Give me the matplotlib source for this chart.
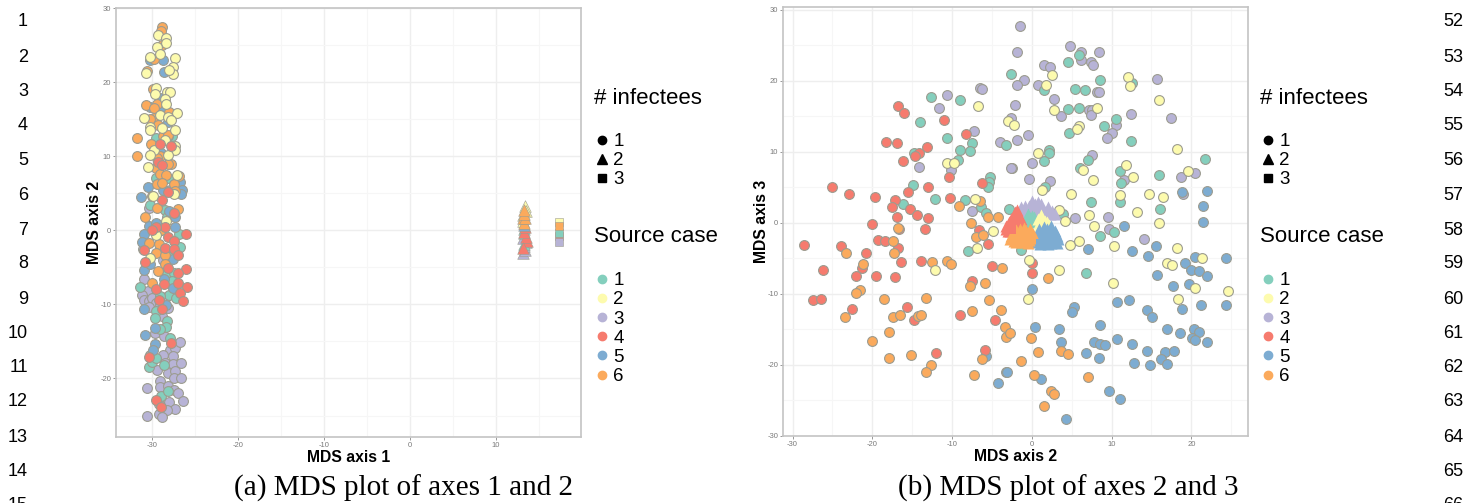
import matplotlib
matplotlib.use("Agg")
import matplotlib.pyplot as plt
from matplotlib.lines import Line2D

plt.rcParams["axes.unicode_minus"] = False

# ---------- Panel (a): MDS axis 1 vs axis 2, circles (1 infectee) ----------
A_TEAL = [(-27.7,12.7),(-29.5,12.5),(-28.2,12.7),(-29.5,7),(-28.1,7),(-30.2,3.4),(-28.5,2.7),(-28.3,1.8),
          (-26.9,-0.5),(-26.7,-2.3),(-27.6,-3.3),(-28.3,-5.8),(-27.5,-5.8),(-27.7,-6.9),(-31.4,-7.6),(-28,-8.7),
          (-27.2,-9.2),(-29.1,-8.9),(-29.5,-10.9),(-29.7,-11.9),(-28.3,-12.3),(-28.4,-13),(-29.1,-13.3),(-27.9,-14.6),
          (-30.4,-18.4),(-30,-17.8),(-29.6,-17.3),(-28.6,-18.2),(-29,-22.3),(-28.2,-21.7)]
A_YELLOW = [(-29.3,26.3),(-28.4,25.9),(-28.4,25.3),(-29.4,24.7),(-29.1,23.8),(-30.3,23.4),(-27.3,23.3),(-27.6,22.0),
            (-27.6,21.1),(-28,21.6),(-30.7,21.2),(-29.5,19.2),(-28.3,18.7),(-27.9,18.6),(-29.7,18.4),(-28.5,17.7),
            (-28.4,17.0),(-27.1,15.8),(-31,15.1),(-29.1,15.6),(-28.2,15.3),(-27.8,14.9),(-30.2,13.9),(-30.2,13.6),
            (-28.8,13.8),(-27.3,13.5),(-28.5,12.2),(-27.3,11.4),(-27.3,10.9),(-29.8,10.9),(-30.3,10.1),(-28.1,10.1),
            (-30.5,8.5),(-27.1,7.5),(-27.5,4.9),(-29.9,4.6),(-28.4,1.2),(-29.6,-0.7),(-30.3,-3.8)]
A_PURPLE = [(-30.4,3.0),(-31.1,-2.5),(-28.7,-4),(-31,-6.6),(-30.5,-8.2),(-31.2,-8.7),(-30.9,-9.4),(-30.4,-9.6),
            (-30,-9.1),(-29.6,-9.8),(-30.4,-10.3),(-28.4,-9),(-29.1,-10),(-28.2,-10.5),(-28.9,-11.6),(-29.7,-13.8),
            (-28.6,-14.3),(-27.9,-16.1),(-27.3,-15.9),(-26.8,-15.1),(-30.2,-16.9),(-28.7,-16.9),(-27.6,-17),
            (-28.5,-17.9),(-27.6,-18),(-26.6,-17.9),(-29.4,-18.9),(-28.2,-19.2),(-27.3,-19),(-27.4,-20),(-26.6,-19.9),
            (-29.1,-20.4),(-29.1,-21.1),(-28.2,-21),(-27.5,-21.5),(-27,-21.9),(-30.6,-21.3),(-28,-23.2),(-26.4,-23),
            (-27.3,-24.1),(-28.3,-24.2),(-29.2,-23.4),(-30.6,-25),(-29.2,-24.8),(-28.8,-25.2)]
A_RED = [(-29.1,11.7),(-27.8,11.4),(-29.3,9.2),(-28.8,8.8),(-28.2,5.1),(-28.8,4.1),(-27.5,2.3),(-28.5,0.4),(-29.6,0.5),
         (-26,-0.5),(-30,0.1),(-28.1,-0.9),(-27.5,-1.5),(-31,-2.6),(-28.5,-2.4),(-27.5,-2.5),(-27.0,-3.3),(-30.8,-4.3),
         (-28.1,-5.1),(-26,-5.2),(-27,-5.8),(-27,-7.1),(-25.9,-7.7),(-29.5,-7.9),(-28.6,-7.3),(-26.7,-8.5),(-26.4,-9.6),
         (-29.2,-9.4),(-28.8,-10.6),(-27.8,-15.2),(-30.4,-17.1),(-29.5,-22.9),(-29,-23.9)]
A_BLUE = [(-28.7,23.0),(-30.2,23.0),(-28.6,21.4),(-29.1,17.8),(-30.3,16.6),(-28.8,16.3),(-28.2,14.6),(-29,10.4),
          (-26.7,6.5),(-30.5,5.9),(-26.5,5.5),(-26.6,4.9),(-27.9,5.4),(-28.7,5.5),(-31.3,4.5),(-28,2.6),(-27.3,1.8),
          (-30.4,0.6),(-29.5,1.0),(-27.3,0.5),(-31.0,-0.5),(-31.2,-1.6),(-29.2,-2.8),(-27.6,-3.9),(-31.0,-5.4),
          (-30.2,-4.6),(-28.6,-6.6),(-27.6,-7.8),(-30.9,-10.6),(-28.4,-10.1),(-30.8,-14.1),(-29.7,-13.2),(-29.7,-15.3),
          (-29.9,-16.1)]
A_ORANGE = [(-28.8,27.5),(-29.0,26.9),(-30.6,21.5),(-28.8,25.0),(-29.8,23.1),(-30.7,16.9),(-29.4,17.0),(-29.8,16.5),
            (-29.8,15.1),(-30.2,15.0),(-29.3,14.2),(-28,15.9),(-31.7,12.4),(-31.7,10.0),(-30.1,11.7),(-29.1,10),
            (-29.4,9.7),(-28.7,12.7),(-28.1,12.9),(-27.8,9),(-28.1,8.9),(-29.5,8.4),(-29.1,7.6),(-28.4,7.5),(-26.9,7.3),
            (-29.4,6.2),(-28.9,6.4),(-27.5,6.2),(-27.3,5.3),(-30.0,4.6),(-29.4,3.0),(-27.0,2.9),(-30.8,1.8),(-29,0.1),
            (-29.9,19.1),(-30.4,-1.7),(-29.2,-1.9),(-29,0),(-29.5,-3),(-28.5,-3.3),(-28.5,-4.6),(-29.3,-5.5),(-30,-7.1)]

# panel (a): 2 infectees (triangles) and 3 infectees (squares)
A_TRI_YELLOW = [(13.4,3.3),(13.5,2.6),(13.2,2.0),(13.2,1.2)]
A_TRI_PURPLE = [(13.2,-3.1),(13.4,-2.6),(13.3,-2.1),(13.5,-1.6),(13.1,-1.0)]
A_TRI_TEAL = [(13.3,-1.9),(13.3,0.2),(13.3,-0.4)]
A_TRI_RED = [(13.6,-1.4),(13.5,-0.9),(13.3,-0.2),(13.4,0.4),(13.2,-2.4)]
A_TRI_BLUE = [(13.3,0.7)]
A_TRI_ORANGE = [(13.3,1.0),(13.2,1.6),(13.4,1.6),(13.3,2.2),(13.3,2.8)]
A_SQ_YELLOW = [(17.3,1.15)]
A_SQ_RED = [(17.3,-0.8)]
A_SQ_PURPLE = [(17.3,-1.55)]
A_SQ_TEAL = [(17.3,-0.35)]
A_SQ_ORANGE = [(17.3,0.55)]

# ---------- Panel (b): MDS axis 2 vs axis 3 ----------
B_TEAL = [(-12.6,17.7),(-9.0,17.3),(-14.0,14.2),(-10.6,12.0),(-9.0,10.3),(-7.5,11.2),(-7.8,10.1),(-9.2,8.8),(-14.8,9.9),
          (-14.9,5.4),(-12.2,3.3),(-16.1,2.6),(-8.4,3.2),(-5.3,6.4),(-5.4,5.7),(-5.5,5.0),(-6.4,2.2),(-5.8,1.4),(-3.3,11.0),
          (-2.6,21.0),(-2.9,1.9),(4.5,22.6),(5.9,23.6),(8.5,20.1),(12.5,19.7),(1.5,18.7),(5.4,18.9),(6.7,18.7),(4.5,16.1),
          (5.9,16.2),(10.6,14.6),(9.0,13.7),(4.6,12.6),(12.4,11.6),(2.1,10.3),(2.1,9.9),(1.5,8.7),(7.0,8.9),(6.0,7.7),
          (11.0,7.3),(11.2,5.6),(15.9,6.7),(21.7,9.0),(1.7,5.0),(7.4,3.0),(11.0,3.0),(16.1,1.9),(3.9,1.2),(-8.0,-3.9),
          (8.6,-1.8),(10.3,-1.3),(6.8,-7.1),(-1.3,-3.8)]
B_YELLOW = [(-6.7,16.4),(-3.0,14.4),(-10.6,8.4),(-9.8,8.4),(-7.1,3.3),(-4.9,-1.1),(2.5,20.8),(1.8,19.4),(12.1,20.6),
            (12.3,19.3),(15.9,17.3),(2.8,15.9),(8.2,16.2),(-2.3,13.8),(5.9,13.6),(5.6,13.2),(0.8,9.8),(18.2,10.4),
            (11.8,8.1),(6.4,7.4),(12.7,6.5),(7.7,6.0),(19.6,7.3),(1.3,4.7),(4.9,4.1),(11.1,4.0),(14.7,4.1),(16.4,3.7),
            (13.2,1.5),(3.4,1.8),(4.1,0.3),(7.2,1.1),(7.8,-0.5),(15.9,0),(-12.2,-6.6),(-6.9,-3.5),(4.8,-3.1),(5.9,-2.6),
            (10.3,-3.3),(18.2,-3.6),(21.3,-4.9),(17.0,-5.6),(17.6,-5.9),(-0.3,-5.2),(3.4,-6.6),(10.2,-8.5),(20.4,-9.1),
            (24.6,-9.6),(-0.5,-10.7),(18.3,-10.7)]
B_PURPLE = [(-10.6,18.0),(-11.6,16.2),(-6.5,19.0),(-6.3,18.9),(-7.2,13.0),(-4.0,11.4),(-14.1,7.9),(-10.1,7.4),(-7.5,1.7),
            (-2.5,7.8),(-1.5,27.7),(-1.9,24.0),(4.8,24.9),(6.1,24.1),(6.2,22.9),(8.4,24.1),(7.4,22.6),(7.7,22.2),(1.5,22.2),
            (2.3,21.9),(-1.0,20.1),(-1.8,19.4),(0.8,19.4),(8.2,18.5),(8.4,18.5),(15.7,20.2),(2.8,17.4),(-2.1,16.6),(7.2,15.9),
            (7.5,15.9),(7.4,15.2),(3.7,15.1),(12.4,15.4),(-2.6,14.8),(17.4,14.8),(10.5,13.8),(10.1,12.7),(9.4,11.9),(-0.5,12.4),
            (-1.8,11.7),(7.5,9.6),(0,8.4),(-2.6,7.8),(-0.4,6.2),(2.3,5.9),(11.6,6.0),(18.7,6.4),(20.5,7.0),(19.0,4.1),(5.4,0.7),
            (9.6,0.9),(9.7,-0.8),(14.1,-2.2)]
B_RED = [(-25.1,5.0),(-22.9,4.1),(-19.7,3.6),(-16.8,16.5),(-16.0,15.5),(-18.3,11.4),(-16.9,11.2),(-16.1,8.7),(-17.1,3.2),
         (-17.5,2.2),(-15.3,2.0),(-14.4,1.1),(-16.9,0.8),(-13.0,0.7),(-20.0,-0.2),(-15.5,4.4),(-13.0,5.1),(-13.1,10.7),
         (-14.1,9.9),(-14.7,9.4),(-11.0,14.5),(-8.3,12.5),(-10.4,6.4),(-10.2,3.5),(-6.3,5.6),(-16.6,-0.8),(-13.4,-0.9),
         (-6.6,-1.0),(-28.6,-3.1),(-26.2,-6.6),(-27.4,-10.9),(-26.4,-10.7),(-23.9,-3.3),(-20.8,-4.3),(-21.3,-6.4),(-22.0,-7.5),
         (-22.5,-12.1),(-19.3,-2.4),(-18.4,-2.5),(-16.8,-3.6),(-16.4,-5.5),(-19.5,-7.5),(-17.2,-7.6),(-13.9,-5.3),(-15.7,-11.9),
         (-14.8,-13.7),(-9.0,-13.0),(-12.0,-18.3),(-7.5,-8.2),(-5.5,-2.9),(-5.0,-6.0),(-4.6,-13.7),(-5.9,-17.9),(0,-5.6),(0,-7.1)]
B_BLUE = [(18.8,4.3),(22.0,4.5),(21.5,2.4),(21.5,0.1),(11.6,-0.4),(-5.7,-18.7),(-4.3,-22.6),(-3.2,-21),(7.0,-3.7),(12.5,-4.0),
          (15.6,-3.3),(14.6,-4.6),(20.5,-4.8),(19.2,-5.6),(20.0,-6.6),(21.0,-6.7),(21.9,-7.5),(24.4,-5.0),(15.7,-7.4),(17.7,-8.9),
          (19.7,-8.6),(24.3,-11.6),(21.2,-11.6),(10.7,-11.2),(12.2,-10.8),(14.4,-12.3),(15.1,-13.3),(18.8,-12.1),(5.3,-11.8),
          (5.0,-12.5),(0,-9.3),(8.6,-14.4),(17.0,-14.9),(18.6,-15.5),(20.3,-14.9),(21.0,-15.3),(20.1,-16.2),(20.4,-16.5),(22.0,-16.8),
          (0.4,-14.6),(3.4,-15),(3.6,-16.7),(10.7,-16.3),(7.8,-16.8),(8.6,-17.1),(9.2,-17.2),(12.5,-17.1),(6.8,-18.3),(8.4,-19),
          (14.4,-18.1),(16.7,-18.2),(17.8,-18),(12.8,-19.7),(14.8,-20),(16.2,-19.2),(17.0,-19.9),(-3.1,-21),(1.2,-22),(9.7,-23.6),
          (11.0,-24.8),(4.3,-27.6)]
B_ORANGE = [(-17.4,-2.5),(-23.3,-4.2),(-17.3,-4.2),(-21.2,-5.8),(-12.5,-5.5),(-10.7,-5.4),(-10.1,-5.8),(-21.6,-9.5),(-22.0,-9.8),
            (-18.5,-10.7),(-13.3,-10.6),(-23.4,-13.2),(-17.4,-13.3),(-16.5,-13.0),(-14.3,-13.1),(-13.9,-13.0),(-17.9,-15.4),
            (-20.0,-16.6),(-17.9,-19.0),(-15.1,-18.6),(-12.6,-20),(-13.3,-21),(-7.3,-21.4),(-6.2,-19.2),(-7.7,-8.9),(-5.9,-8.5),
            (-5.4,-10.9),(-7.5,-12.4),(-3.9,-12.2),(-3.4,-14.7),(-3.3,-16),(-3.7,-6.4),(-7.0,-2.0),(-6.1,-1.7),(-7.6,0),(-16.8,-0.7),
            (-9.1,2.4),(-6.5,3.1),(-5.5,0.9),(-4.2,0.8),(2.0,-7.7),(-2.8,-15.5),(-0.1,-16.2),(0.8,-18.2),(3.6,-18.1),(4.5,-18.4),
            (-1.3,-19.4),(0.3,-21.4),(7.1,-21.7),(2.4,-23.6),(2.8,-24.1),(1.5,-25.8)]

B_TRI_PURPLE = [(-0.9,2.4),(0,3.1),(0.8,2.9),(1.2,2.6),(2.0,2.2),(2.5,1.7),(-1.3,2.2),(0.2,1.9),(1.6,1.5),(-0.7,1.5),
                (-1.5,1.6),(-0.3,2.4),(0.4,2.6),(1.0,2.1),(-0.2,1.7),(0.5,1.5),(1.0,1.5),(2.3,1.3),(2.9,1.3),(1.9,1.6)]
B_TRI_TEAL = [(-0.3,0.8),(-0.5,1.2),(0.2,0.3),(-0.1,0.1),(0.0,1.0),(-0.7,0.5),(0.3,0.9)]
B_TRI_YELLOW = [(1.2,0.8),(1.6,0.3),(2.2,-0.3),(1,-0.3),(1.6,-0.3),(0.8,0.6),(1.3,-0.6),(1.9,0.1),(2.4,-0.7),(0.9,0.0),(1.1,1.1)]
B_TRI_RED = [(-2.1,1.5),(-2.6,0.5),(-3.2,-0.4),(-2.3,-0.4),(-1.7,0.3),(-1.3,0.5),(-2.8,-1.1),(-2.1,0.8),(-1.9,1.8),(-2.3,1.1),
             (-1.6,1.0),(-2.9,0.1),(-1.2,0.0),(-3.3,-0.9),(-2.7,-0.5),(-1.9,-0.3),(-1.5,-0.5),(-3.0,-1.2)]
B_TRI_BLUE = [(1.2,-1.6),(1.9,-0.9),(2.9,-1.1),(3.1,-1.8),(0.8,-2.3),(1.6,-2.8),(2.4,-2.8),(2.9,-2.3),(2.0,-1.8),(0.8,-1.8),
              (0.9,-0.9),(1.5,-0.6),(2.4,-0.5),(3.0,-1.5),(1.5,-1.2),(2.4,-1.4),(3.3,-2.2),(1.2,-2.4),(2.0,-2.4),(2.5,-2.0),
              (0.6,-2.7),(1.0,-2.9),(3.1,-2.8),(2.0,-3.0)]
B_TRI_ORANGE = [(-2.3,-1.6),(-1.5,-0.9),(-0.7,-1.1),(-0.3,-1.6),(-2.3,-2.5),(-1.5,-2.3),(-0.7,-2.5),(-1.7,-1.6),(0,-2.1),(-2.8,-2.3),
                (-2.0,-1.0),(-1.0,-0.7),(-0.2,-0.9),(-1.0,-1.6),(-2.6,-1.9),(-1.9,-2.2),(-1.0,-2.1),(-0.3,-2.4),(0.1,-1.5),(-0.5,-2.8),
                (-1.2,-2.7),(-2.0,-2.7)]
B_SQ_ORANGE = [(-1.8,-2.6),(-0.8,-2.8)]
B_SQ_BLUE = [(1.2,-2.9),(2.2,-3.0),(3.0,-2.6)]
B_SQ_RED = [(-2.6,-0.8)]

INFECTEE_LABELS = ["1", "2", "3"]
SOURCE_LABELS = ["1", "2", "3", "4", "5", "6"]
LEFT_LINES = list(range(1, 16))
RIGHT_LINES = list(range(52, 67))
LINE_Y = [22, 57, 91, 125, 160, 195, 230, 264, 299, 333, 367, 402, 437, 471, 506]

TEAL, YELLOW, PURPLE, RED, BLUE, ORANGE = "#84CFBD", "#FDFBAE", "#B7B3D6", "#F67B6E", "#7DACD2", "#FBAA5C"
SOURCE_COLORS = [TEAL, YELLOW, PURPLE, RED, BLUE, ORANGE]
EDGE = "#9C9C90"
SANS = "Liberation Sans"
SERIF = "Liberation Serif"
W, H = 1478, 503

fig = plt.figure(figsize=(W / 100, H / 100), dpi=100)


def make_axes(left, right, top, bottom, xlim, ylim, xlabel, ylabel):
    ax = fig.add_axes([left / W, 1 - bottom / H, (right - left) / W, (bottom - top) / H])
    ax.set_axisbelow(True)
    ax.set_xticks(range(-30, 21, 10))
    ax.set_yticks(range(-30, 31, 10))
    ax.set_xticks(range(-35, 26, 10), minor=True)
    ax.set_yticks(range(-25, 26, 10), minor=True)
    ax.set_xlim(*xlim)
    ax.set_ylim(*ylim)
    ax.grid(True, which="major", color="#EEEEEE", lw=1.0)
    ax.grid(True, which="minor", color="#F6F6F6", lw=0.8)
    ax.tick_params(which="minor", length=0)
    ax.tick_params(which="major", length=2, width=0.6, color="#888888", labelcolor="#7A7A7A", labelsize=5.5, pad=1.5)
    for lab in ax.get_xticklabels() + ax.get_yticklabels():
        lab.set_fontfamily(SANS)
    for s in ax.spines.values():
        s.set_color("#C4C4C4")
        s.set_linewidth(1.2)
    ax.set_xlabel(xlabel, family=SANS, weight="bold", fontsize=11.3, labelpad=1)
    ax.set_ylabel(ylabel, family=SANS, weight="bold", fontsize=11.3)
    ax.yaxis.set_label_coords(-0.03, 0.5)
    return ax


def draw(ax, pts, color, marker="o", size=50, lw=0.8, z=3):
    xs = [p[0] for p in pts]
    ys = [p[1] for p in pts]
    ax.scatter(xs, ys, s=size, c=color, marker=marker, edgecolors=EDGE, linewidths=lw, zorder=z)


axa = make_axes(116, 581, 8, 437, (-34.2, 19.9), (-27.9, 30.0), "MDS axis 1", "MDS axis 2")
axb = make_axes(783, 1248, 7, 436, (-31.2, 27.1), (-30.0, 30.4), "MDS axis 2", "MDS axis 3")

for pts, col in [(A_PURPLE, PURPLE), (A_TEAL, TEAL), (A_BLUE, BLUE), (A_ORANGE, ORANGE), (A_YELLOW, YELLOW), (A_RED, RED)]:
    draw(axa, pts, col)
for pts, col in [(A_TRI_YELLOW, YELLOW), (A_TRI_PURPLE, PURPLE), (A_TRI_TEAL, TEAL), (A_TRI_RED, RED), (A_TRI_BLUE, BLUE), (A_TRI_ORANGE, ORANGE)]:
    draw(axa, pts, col, marker="^", size=70, lw=0.4)
for pts, col in [(A_SQ_YELLOW, YELLOW), (A_SQ_RED, RED), (A_SQ_TEAL, TEAL), (A_SQ_PURPLE, PURPLE), (A_SQ_ORANGE, ORANGE)]:
    draw(axa, pts, col, marker="s", size=36, lw=0.4)

for pts, col in [(B_PURPLE, PURPLE), (B_TEAL, TEAL), (B_BLUE, BLUE), (B_RED, RED), (B_ORANGE, ORANGE), (B_YELLOW, YELLOW)]:
    draw(axb, pts, col)
for pts, col in [(B_TRI_PURPLE, PURPLE), (B_TRI_TEAL, TEAL), (B_TRI_YELLOW, YELLOW), (B_TRI_RED, RED), (B_TRI_BLUE, BLUE), (B_TRI_ORANGE, ORANGE)]:
    draw(axb, pts, col, marker="^", size=75, lw=0, z=4)
for pts, col in [(B_SQ_RED, RED), (B_SQ_BLUE, BLUE), (B_SQ_ORANGE, ORANGE)]:
    draw(axb, pts, col, marker="s", size=60, lw=0, z=4)


def px_text(x, y, s, **kw):
    fig.text(x / W, 1 - y / H, s, **kw)


def add_legends(ax, x0):
    px_text(x0, 98, "# infectees", family=SANS, fontsize=16, va="center", ha="left")
    px_text(x0, 237, "Source case", family=SANS, fontsize=16, va="center", ha="left")
    infect = [Line2D([], [], ls="", marker=m, color="black", ms=ms) for m, ms in [("o", 6), ("^", 7), ("s", 5.5)]]
    src = [Line2D([], [], ls="", marker="o", color=c, ms=6) for c in SOURCE_COLORS]
    common = dict(loc="upper left", frameon=False, prop={"family": SANS, "size": 13.5}, labelspacing=0.11,
                  handlelength=1.0, handletextpad=0.1, borderpad=0, borderaxespad=0, bbox_transform=fig.transFigure)
    l1 = ax.legend(infect, INFECTEE_LABELS, bbox_to_anchor=((x0 - 1.4) / W, 1 - 133 / H), **common)
    ax.add_artist(l1)
    ax.legend(src, SOURCE_LABELS, bbox_to_anchor=((x0 - 1.4) / W, 1 - 272 / H), **common)


add_legends(axa, 594)
add_legends(axb, 1260)

px_text(403, 496, "(a) MDS plot of axes 1 and 2", family=SERIF, fontsize=21, ha="center", va="baseline")
px_text(1068, 496, "(b) MDS plot of axes 2 and 3", family=SERIF, fontsize=21, ha="center", va="baseline")
for n, y in zip(LEFT_LINES, LINE_Y):
    px_text(28, y, str(n), family=SANS, fontsize=13, ha="right", va="center")
for n, y in zip(RIGHT_LINES, LINE_Y):
    px_text(1443, y, str(n), family=SANS, fontsize=13, ha="left", va="center")

fig.savefig("out.png", dpi=100)
